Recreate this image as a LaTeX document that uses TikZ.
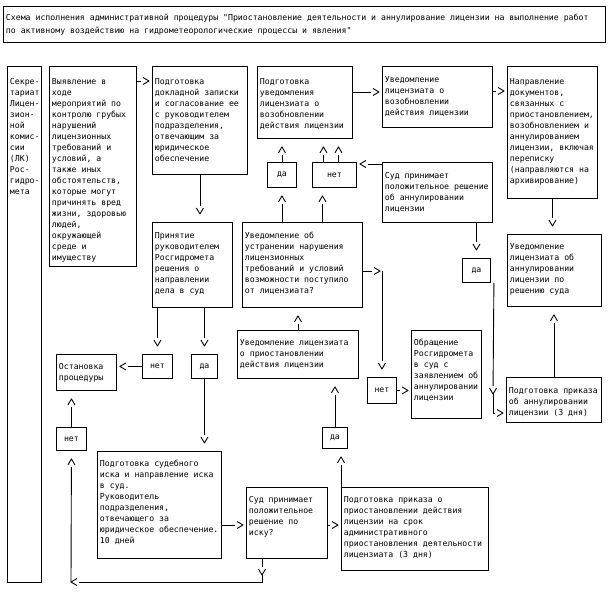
\documentclass[tikz,border=0pt]{standalone}
\usepackage{fontspec}
\newfontfamily\schemefont{DejaVu Sans Mono}
\usetikzlibrary{arrows.meta}
% open chevron tip, the shaft stops a little before it
\pgfdeclarearrow{
  name = Chev,
  parameters = {\the\pgfarrowlength,\the\pgfarrowwidth},
  setup code = {
    \pgfarrowssettipend{0pt}
    \pgfarrowssetbackend{-\pgfarrowlength}
    \pgfarrowssetlineend{-1.35\pgfarrowlength}
    \pgfarrowssetvisualbackend{-\pgfarrowlength}
    \pgfarrowsupperhullpoint{-\pgfarrowlength}{.5\pgfarrowwidth}
    \pgfarrowsupperhullpoint{0pt}{0pt}
    \pgfarrowssavethe\pgfarrowlength
    \pgfarrowssavethe\pgfarrowwidth
  },
  drawing code = {
    \pgfsetdash{}{0pt}
    \pgfsetroundjoin
    \pgfpathmoveto{\pgfqpoint{-\pgfarrowlength}{.5\pgfarrowwidth}}
    \pgfpathlineto{\pgfpointorigin}
    \pgfpathlineto{\pgfqpoint{-\pgfarrowlength}{-.5\pgfarrowwidth}}
    \pgfusepathqstroke
  },
  defaults = {length = 6pt, width = 7pt}
}
\newcommand{\scfont}{\schemefont\fontsize{8.2}{11}\selectfont}
% box text: width, height, first baseline, lines
\newcommand{\bx}[4]{\parbox[t][\dimexpr#2pt-4pt\relax][t]{\dimexpr#1pt-5pt\relax}{\raggedright\hyphenpenalty=10000 \exhyphenpenalty=10000 \rule{0pt}{#3pt}#4}}
\tikzset{
  blk/.style={draw, anchor=north west, inner xsep=2.5pt, inner ysep=2pt, font=\scfont},
  ans/.style={draw, anchor=north west, inner sep=0pt, font=\scfont},
  arr/.style={-{Chev}, shorten >=3pt},
  varr/.style={-{Chev}, shorten >=8pt},
  seg/.style={-{Chev}},
}

\begin{document}
\begin{tikzpicture}[x=1pt, y=-1pt, line width=0.9pt]
  \useasboundingbox[fill=white] (0,0) rectangle (609,593);

  % header
  \node[blk] (title) at (3,6) {\bx{602}{36}{12}{Схема исполнения административной процедуры "Приостановление деятельности и аннулирование лицензии на выполнение работ\\[2pt]по активному воздействию на гидрометеорологические процессы и явления"}};

  % boxes
  \node[blk] (sekr) at (7,66) {\bx{34}{516}{16}{Секре-\\тариат\\Лицен-\\зион-\\ной\\комис-\\сии\\(ЛК)\\Рос-\\гидро-\\мета}};
  \node[blk] (vyyav) at (49,66) {\bx{87}{200}{16}{Выявление в\\ходе\\мероприятий по\\контролю грубых\\нарушений\\лицензионных\\требований и\\условий, а\\также иных\\обстоятельств,\\которые могут\\причинять вред\\жизни, здоровью\\людей,\\окружающей\\среде и\\имуществу}};
  \node[blk] (dokl) at (152,66) {\bx{95}{108}{16}{Подготовка\\докладной записки\\и согласование ее\\с руководителем\\подразделения,\\отвечающим за\\юридическое\\обеспечение}};
  \node[blk] (podgvoz) at (257,66) {\bx{95}{72}{16}{Подготовка\\уведомления\\лицензиата о\\возобновлении\\действия лицензии}};
  \node[blk] (uvvoz) at (382,66) {\bx{110}{61}{14}{Уведомление\\лицензиата о\\возобновлении\\действия лицензии}};
  \node[blk] (naprav) at (507,66) {\bx{90}{132}{16}{Направление\\документов,\\связанных с\\приостановлением,\\возобновлением и\\аннулированием\\лицензии, включая\\переписку\\(направляются на\\архивирование)}};
  \node[blk] (sudann) at (382,162) {\bx{110}{60}{14}{Суд принимает\\положительное решение\\об аннулировании\\лицензии}};
  \node[blk] (uvann) at (507,234) {\bx{94}{72}{13}{Уведомление\\лицензиата об\\аннулировании\\лицензии по\\решению суда}};
  \node[blk] (prin) at (152,222) {\bx{80}{85}{14}{Принятие\\руководителем\\Росгидромета\\решения о\\направлении\\дела в суд}};
  \node[blk] (uvustr) at (242,222) {\bx{120}{85}{14}{Уведомление об\\устранении нарушения\\лицензионных\\требований и условий\\возможности поступило\\от лицензиата?}};
  \node[blk] (uvpri) at (237,330) {\bx{121}{48}{13}{Уведомление лицензиата\\о приостановлении\\действия лицензии}};
  \node[blk] (obr) at (411,330) {\bx{70}{88}{13}{Обращение\\Росгидромета\\в суд с\\заявлением об\\аннулировании\\лицензии}};
  \node[blk] (prikann) at (506,377) {\bx{95}{45}{14}{Подготовка приказа\\об аннулировании\\лицензии (3 дня)}};
  \node[blk] (ost) at (56,354) {\bx{60}{36}{13}{Остановка\\процедуры}};
  \node[blk] (isk) at (97,451) {\bx{124}{107}{13}{Подготовка судебного\\иска и направление иска\\в суд.\\Руководитель\\подразделения,\\отвечающего за\\юридическое обеспечение.\\10 дней}};
  \node[blk] (sudisk) at (246,487) {\bx{81}{71}{13}{Суд принимает\\положительное\\решение по\\иску?}};
  \node[blk] (prikpri) at (341,487) {\bx{147}{83}{13}{Подготовка приказа о\\приостановлении действия\\лицензии на срок\\административного\\приостановления деятельности\\лицензиата (3 дня)}};

  % answers
  \node[ans, minimum width=29pt, minimum height=25pt] (da1) at (267,162) {да};
  \node[ans, minimum width=44pt, minimum height=25pt] (net2) at (312,162) {нет};
  \node[ans, minimum width=28pt, minimum height=24pt] (da4) at (462,258) {да};
  \node[ans, minimum width=30pt, minimum height=24pt] (net1) at (142,354) {нет};
  \node[ans, minimum width=26pt, minimum height=24pt] (da2) at (191,354) {да};
  \node[ans, minimum width=29pt, minimum height=26pt] (net3) at (367,377) {нет};
  \node[ans, minimum width=30pt, minimum height=23pt] (net4) at (56,427) {нет};
  \node[ans, minimum width=25pt, minimum height=21pt] (da5) at (322,427) {да};

  % free ends
  \coordinate (n2a) at ([xshift=-11pt]net2.north);
  \coordinate (n2b) at ([xshift=4pt]net2.north);
  \coordinate (n2c) at ([xshift=-12pt]net2.south);
  \coordinate (hA) at (380,271);
  \coordinate (vA) at (493,394);
  \coordinate (vB) at (493,413);
  \coordinate (lA) at (262,575);
  \coordinate (lB) at (71,582);

  % top row
  \draw[arr] ([yshift=-15pt]vyyav.north east) -- ([yshift=-15pt]dokl.north west);
  \draw[varr] (dokl.south) -- (dokl.south |- prin.north);
  \draw[arr] ([yshift=-26pt]podgvoz.north east) -- ([yshift=-26pt]uvvoz.north west);
  \draw[arr] ([yshift=-25pt]uvvoz.north east) -- ([yshift=-25pt]naprav.north west);
  \draw[varr] (naprav.south) -- (naprav.south |- uvann.north);

  % around da / net
  \draw[varr] (da1.north) -- (da1.north |- podgvoz.south);
  \draw[varr] (n2a) -- (n2a |- podgvoz.south);
  \draw[varr] (n2b) -- (n2b |- podgvoz.south);
  \draw[varr] (uvustr.north -| da1.south) -- (da1.south);
  \draw[varr] (uvustr.north -| n2c) -- (n2c);
  \draw[arr] ([yshift=-2pt]sudann.north west) -- ([yshift=-2pt]net2.north east);
  \draw[varr] (sudann.south -| da4.north) -- (da4.north);
  \draw[varr] (prikann.north) -- (prikann.north |- uvann.south);

  % middle
  \draw[seg] ([yshift=-49pt]uvustr.north east) -- (hA);
  \draw[varr] (hA -| net3.north) -- (net3.north);
  \draw[arr] (net3.east) -- (net3.east -| obr.west);
  \draw[seg] ([xshift=3pt]da4.south east) -- (vA);
  \draw[arr] (vA) -- (vB) -- (vB -| prikann.west);
  \draw[varr] (uvpri.north) -- (uvpri.north |- uvustr.south);
  \draw[varr] (prin.south -| net1.north) -- (net1.north);
  \draw[varr] (prin.south -| da2.north) -- (da2.north);
  \draw[arr] (net1.west) -- (net1.west -| ost.east);
  \draw[varr] (da2.south) -- (da2.south |- isk.north);

  % bottom
  \draw[arr] ([yshift=-74pt]isk.north east) -- ([yshift=-38pt]sudisk.north west);
  \draw[arr] ([yshift=-38pt]sudisk.north east) -- ([yshift=-38pt]prikpri.north west);
  \draw[varr] (prikpri.north west) -- (prikpri.north west |- da5.south);
  \draw[varr] (da5.north) -- (da5.north |- uvpri.south);
  \draw[seg] (lA |- sudisk.south) -- (lA);
  \draw[seg] (lA) |- (lB);
  \draw[varr] (lB) -- (net4.south);
  \draw[varr] (net4.north) -- (net4.north |- ost.south);
\end{tikzpicture}
\end{document}
